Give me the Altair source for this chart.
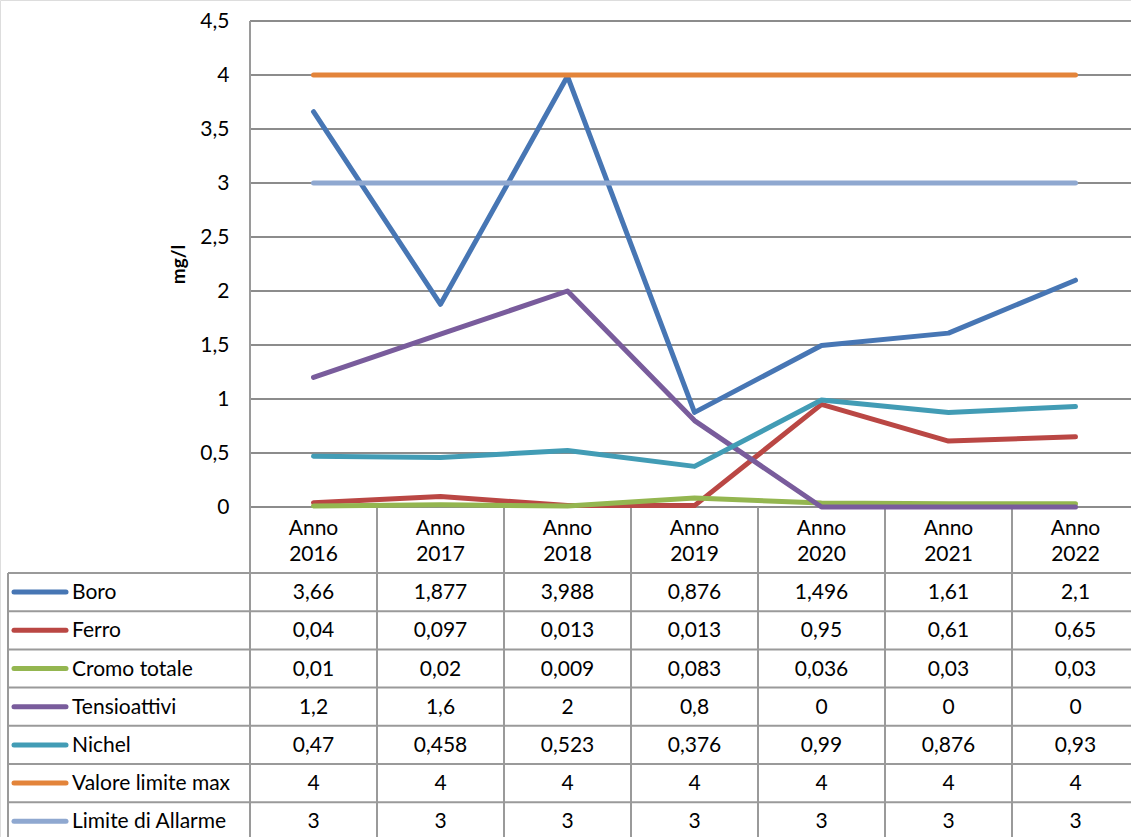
import altair as alt
import pandas as pd

# ---------------- data ----------------
years = ["2016", "2017", "2018", "2019", "2020", "2021", "2022"]
series = ["Boro", "Ferro", "Cromo totale", "Tensioattivi", "Nichel",
          "Valore limite max", "Limite di Allarme"]
boro = [3.66, 1.877, 3.988, 0.876, 1.496, 1.61, 2.1]
ferro = [0.04, 0.097, 0.013, 0.013, 0.95, 0.61, 0.65]
cromo = [0.01, 0.02, 0.009, 0.083, 0.036, 0.03, 0.03]
tensioattivi = [1.2, 1.6, 2, 0.8, 0, 0, 0]
nichel = [0.47, 0.458, 0.523, 0.376, 0.99, 0.876, 0.93]
valore_limite = [4, 4, 4, 4, 4, 4, 4]
allarme = [3, 3, 3, 3, 3, 3, 3]
y_ticks = [0, 0.5, 1, 1.5, 2, 2.5, 3, 3.5, 4, 4.5]
colors = ["#4776B4", "#BA4744", "#94B650", "#795C9C", "#429CB5", "#E3843A", "#8FA8D0"]
values = [boro, ferro, cromo, tensioattivi, nichel, valore_limite, allarme]

# ---------------- layout (pixels) ----------------
W, H = 1131, 837
PLOT_LEFT = 250      # left edge of plot area
COL = 127            # width of one category column
ZERO_Y = 507         # pixel row of value 0
UNIT = 108           # pixels per mg/l
TABLE_LEFT = 8
TABLE_TOP = 573
ROW_H = 38.2
FONT = "Lato"
FS = 21
GRID = "#8C8C8C"
LINEC = "#9A9A9A"

def px_u(p):   # pixel x -> column units
    return (p - PLOT_LEFT) / COL

def py_v(p):   # pixel y -> value units
    return (ZERO_Y - p) / UNIT

xs = alt.Scale(domain=[px_u(0), px_u(W)], nice=False, zero=False)
ys = alt.Scale(domain=[py_v(H), py_v(0)], nice=False, zero=False)

yaxis = alt.Axis(values=y_ticks, format=".1~f",
                 labelExpr="replace(datum.label, '.', ',')",
                 offset=-PLOT_LEFT, domain=False, ticks=False, grid=False,
                 labelPadding=21, labelFont=FONT, labelFontSize=FS, labelColor="black",
                 title="mg/l", titleFont=FONT, titleFontSize=19, titleFontWeight="bold",
                 titleColor="black", titleX=-72, titleY=(ZERO_Y + 21) / 2,
                 titleBaseline="middle", titleAngle=270)

def X(f="u"):
    return alt.X(f, type="quantitative", scale=xs, axis=None)

def Y(f="v"):
    return alt.Y(f, type="quantitative", scale=ys, axis=yaxis)

def fmt(v):
    return f"{v:g}".replace(".", ",")

# gridlines
grid_df = pd.DataFrame({"v": y_ticks, "u": 0.0})
grid = alt.Chart(grid_df).mark_rule(color=GRID, strokeWidth=2).encode(
    x=X(), x2=alt.value(W), y=Y())

# vertical axis line (through the table)
axis_df = pd.DataFrame({"u": [0.0], "v": [max(y_ticks)]})
axis_line = alt.Chart(axis_df).mark_rule(color=LINEC, strokeWidth=2).encode(
    x=X(), y=Y(), y2=alt.value(H))

# column separators in the table
sep_df = pd.DataFrame({"u": [float(i) for i in range(1, len(years) + 1)], "v": 0.0})
seps = alt.Chart(sep_df).mark_rule(color=LINEC, strokeWidth=2).encode(
    x=X(), y=Y(), y2=alt.value(H))

# horizontal table lines
hl_df = pd.DataFrame({"v": [py_v(TABLE_TOP + ROW_H * i) for i in range(len(series) + 1)],
                      "u": px_u(TABLE_LEFT)})
hlines = alt.Chart(hl_df).mark_rule(color=LINEC, strokeWidth=2).encode(
    x=X(), x2=alt.value(W), y=Y())

# left border of table
lb_df = pd.DataFrame({"u": [px_u(TABLE_LEFT)], "v": [py_v(TABLE_TOP)]})
lborder = alt.Chart(lb_df).mark_rule(color=LINEC, strokeWidth=2).encode(
    x=X(), y=Y(), y2=alt.value(H))

# series lines
rows = []
for s, vals in zip(series, values):
    for i, v in enumerate(vals):
        rows.append({"series": s, "u": i + 0.5, "v": v, "order": i})
line_df = pd.DataFrame(rows)
color_scale = alt.Scale(domain=series, range=colors)
lines = alt.Chart(line_df).mark_line(strokeWidth=5, strokeCap="round", strokeJoin="round").encode(
    x=X(), y=Y(), color=alt.Color("series:N", scale=color_scale, legend=None),
    order="order:Q")

# header labels
hdr_df = pd.DataFrame({"u": [i + 0.5 for i in range(len(years))],
                       "v": py_v((ZERO_Y + TABLE_TOP) / 2),
                       "t": [f"Anno\n{y}" for y in years]})
header = alt.Chart(hdr_df).mark_text(font=FONT, fontSize=FS, lineBreak="\n", lineHeight=26,
                                     baseline="middle", align="center", color="black",
                                     dy=-11).encode(
    x=X(), y=Y(), text="t:N")

# table values
cells = []
for r, vals in enumerate(values):
    for i, v in enumerate(vals):
        cells.append({"u": i + 0.5, "v": py_v(TABLE_TOP + ROW_H * (r + 0.5)), "t": fmt(v)})
cell_df = pd.DataFrame(cells)
cell_text = alt.Chart(cell_df).mark_text(font=FONT, fontSize=FS, baseline="middle",
                                         align="center", color="black", dy=1).encode(
    x=X(), y=Y(), text="t:N")

# legend keys + labels in the table
leg_df = pd.DataFrame({"series": series,
                       "u": px_u(14), "u2": px_u(66), "ul": px_u(72),
                       "v": [py_v(TABLE_TOP + ROW_H * (r + 0.5)) for r in range(len(series))]})
leg_keys = alt.Chart(leg_df).mark_rule(strokeWidth=5, strokeCap="round").encode(
    x=X(), x2=alt.X2("u2"), y=Y(),
    color=alt.Color("series:N", scale=color_scale, legend=None))
leg_text = alt.Chart(leg_df).mark_text(font=FONT, fontSize=FS, baseline="middle",
                                       align="left", color="black", dy=1).encode(
    x=X("ul"), y=Y(), text="series:N")

chart = alt.layer(grid, axis_line, seps, hlines, lborder, lines, header, cell_text,
                  leg_keys, leg_text).properties(
    width=W, height=H, padding=0, autosize=alt.AutoSizeParams(type="none")
).configure_view(stroke=None).configure(background="white")

chart.save("out.html", embed_options={"renderer": "svg", "actions": False})
